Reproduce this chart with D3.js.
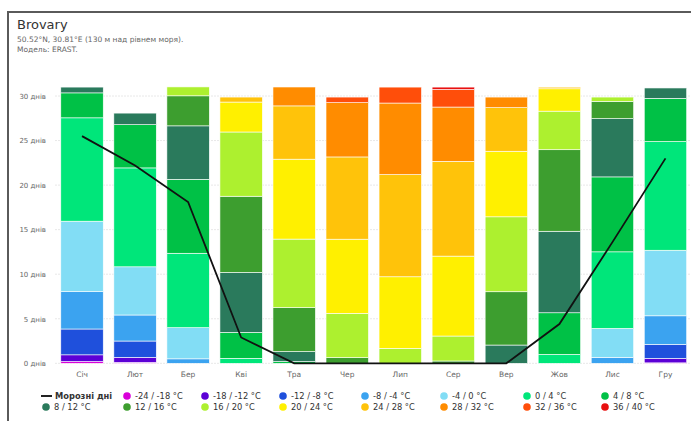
<!DOCTYPE html>
<html><head><meta charset="utf-8">
<script src="https://cdn.jsdelivr.net/npm/d3@7"></script>
<style>
html,body{margin:0;padding:0;background:#fff;}
svg{display:block;font-family:"DejaVu Sans",sans-serif;}
</style></head><body>
<svg id="c" width="691" height="421"></svg>
<script>
const months = ["Січ","Лют","Бер","Кві","Тра","Чер","Лип","Сер","Вер","Жов","Лис","Гру"];
const classLabels = ["-24 / -18 °C","-18 / -12 °C","-12 / -8 °C","-8 / -4 °C","-4 / 0 °C","0 / 4 °C","4 / 8 °C","8 / 12 °C","12 / 16 °C","16 / 20 °C","20 / 24 °C","24 / 28 °C","28 / 32 °C","32 / 36 °C","36 / 40 °C"];
const classColors = ["#d900d9","#5c00d6","#1f50dc","#3ba3f0","#82ddf5","#00e67a","#00c146","#2a7a5c","#3d9e2f","#adf02f","#fff000","#ffc30a","#ff8c00","#ff4e0a","#e81010"];
const t_m24_m18 = [0.2,0.1,0,0,0,0,0,0,0,0,0,0.05];
const t_m18_m12 = [0.75,0.57,0,0,0,0,0,0,0,0,0,0.5];
const t_m12_m8  = [2.9,1.83,0,0,0,0,0,0,0,0,0,1.57];
const t_m8_m4   = [4.2,2.92,0.5,0,0,0,0,0,0,0,0.67,3.21];
const t_m4_0    = [7.9,5.41,3.5,0,0,0,0,0,0,0,3.25,7.36];
const t_0_4     = [11.6,11.1,8.35,0.56,0,0,0,0,0,1.0,8.59,12.2];
const t_4_8     = [2.8,4.85,8.3,2.91,0.2,0,0,0,0,4.67,8.41,4.85];
const t_8_12    = [0.65,1.3,6.0,6.73,1.12,0,0,0,2.05,9.15,6.54,1.16];
const t_12_16   = [0,0,3.37,8.55,4.93,0.64,0,0.26,5.98,9.15,1.94,0];
const t_16_20   = [0,0,1.0,7.21,7.69,4.96,1.68,2.8,8.41,4.33,0.48,0];
const t_20_24   = [0,0,0,3.36,8.97,8.33,8.03,8.97,7.36,2.51,0,0];
const t_24_28   = [0,0,0,0.56,5.98,9.23,11.47,10.64,4.89,0.18,0,0];
const t_28_32   = [0,0,0,0,2.12,6.09,8.03,6.09,1.19,0,0,0];
const t_32_36   = [0,0,0,0,0,0.63,1.79,1.98,0,0,0,0];
const t_36_40   = [0,0,0,0,0,0,0,0.26,0,0,0,0];
const frostDays = [25.5,22.2,18.1,2.9,0,0,0,0,0,4.4,13.6,23.0];
const yTicks = [0,5,10,15,20,25,30];

const classSeries = [t_m24_m18,t_m18_m12,t_m12_m8,t_m8_m4,t_m4_0,t_0_4,t_4_8,t_8_12,t_12_16,t_16_20,t_20_24,t_24_28,t_28_32,t_32_36,t_36_40];
const keys = classLabels.map((d,i)=>"k"+i);
const table = months.map((m,mi)=>{const o={month:m}; keys.forEach((k,ki)=>o[k]=classSeries[ki][mi]); return o;});

const svg = d3.select("#c");
svg.append("rect").attr("x",8).attr("y",12).attr("width",700).attr("height",430)
  .attr("fill","none").attr("stroke","#5a5a5a").attr("stroke-width",2);

svg.append("text").attr("x",17).attr("y",29).attr("font-size",13).attr("font-weight","500").attr("fill","#333").text("Brovary");
svg.append("text").attr("x",17).attr("y",42).attr("font-size",7.5).attr("fill","#666").text("50.52°N, 30.81°E (130 м над рівнем моря).");
svg.append("text").attr("x",17).attr("y",52).attr("font-size",7.5).attr("fill","#666").text("Модель: ERAST.");

const x = d3.scaleBand().domain(months).range([55.5,692]).paddingInner(0.2).paddingOuter(0.1);
const y = d3.scaleLinear().domain([0,30]).range([363.3,96]);

const g = svg.append("g");
g.selectAll("line.grid").data(yTicks).join("line").attr("class","grid")
  .attr("x1",55).attr("x2",691).attr("y1",d=>y(d)).attr("y2",d=>y(d))
  .attr("stroke","#e8e8e8").attr("stroke-width",1).attr("stroke-dasharray","2,1");

const yAxis = d3.axisLeft(y).tickValues(yTicks).tickFormat(d=>d+" днів").tickSize(0).tickPadding(0);
const ya = svg.append("g").attr("transform","translate(46,0)").call(yAxis);
ya.select(".domain").remove();
ya.selectAll("text").attr("font-size",7).attr("fill","#666").attr("font-family","DejaVu Sans, sans-serif");

const xAxis = d3.axisBottom(x).tickSize(0).tickPadding(0);
const xa = svg.append("g").attr("transform","translate(0,372)").call(xAxis);
xa.select(".domain").remove();
xa.selectAll("text").attr("font-size",7.5).attr("fill","#666").attr("font-family","DejaVu Sans, sans-serif");

const stack = d3.stack().keys(keys)(table);
g.selectAll("g.layer").data(stack).join("g").attr("class","layer")
  .attr("fill",(d,i)=>classColors[i])
  .selectAll("rect").data(d=>d).join("rect")
  .attr("x",d=>x(d.data.month)).attr("width",x.bandwidth())
  .attr("y",d=>y(d[1])).attr("height",d=>Math.max(0,y(d[0])-y(d[1])))
  .attr("stroke","#fff").attr("stroke-width",d=>(d[1]-d[0])>0?0.6:0);

const line = d3.line().x((d,i)=>x(months[i])+x.bandwidth()/2).y(d=>y(d));
g.append("path").datum(frostDays).attr("d",line).attr("fill","none")
  .attr("stroke","#111").attr("stroke-width",1.8);

const colX = [46,127,205,283,365,444,527,605];
const legend = svg.append("g").attr("font-size",8.3).attr("fill","#333");
legend.append("line").attr("x1",41).attr("x2",52).attr("y1",396).attr("y2",396).attr("stroke","#222").attr("stroke-width",2);
legend.append("text").attr("x",55).attr("y",399).attr("font-weight","bold").attr("fill","#333").text("Морозні дні");
classLabels.forEach((lab,i)=>{
  const pos = i+1;
  const row = Math.floor(pos/8), col = pos%8;
  const cy = row===0?396:407;
  legend.append("circle").attr("cx",colX[col]).attr("cy",cy).attr("r",3.8).attr("fill",classColors[i]);
  legend.append("text").attr("x",colX[col]+8).attr("y",cy+3).attr("fill","#333").text(lab);
});
</script></body></html>
